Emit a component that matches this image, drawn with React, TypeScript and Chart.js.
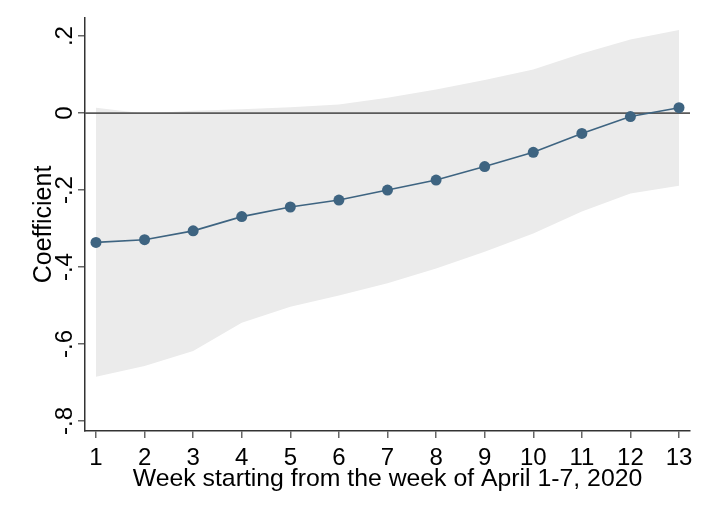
import React, { useEffect, useRef } from 'react';
import { Chart, registerables } from 'chart.js';
Chart.register(...registerables);

const weeks = [1, 2, 3, 4, 5, 6, 7, 8, 9, 10, 11, 12, 13];
const coef = [-0.336, -0.329, -0.306, -0.269, -0.244, -0.226, -0.2, -0.174, -0.139, -0.102, -0.053, -0.009, 0.014];
const upper = [0.014, -0.001, 0.006, 0.01, 0.015, 0.022, 0.04, 0.061, 0.086, 0.113, 0.155, 0.191, 0.216];
const lower = [-0.685, -0.657, -0.618, -0.545, -0.503, -0.474, -0.442, -0.404, -0.36, -0.313, -0.256, -0.209, -0.189];
const yTicks = [-0.8, -0.6, -0.4, -0.2, 0, 0.2];
const yTickLabels = ['-.8', '-.6', '-.4', '-.2', '0', '.2'];
const xTitle = 'Week starting from the week of April 1-7, 2020';
const yTitle = 'Coefficient';

const FONT = "'Liberation Sans', Arial, Helvetica, sans-serif";
const MARK = '#3e6481';

export default function App() {
  const ref = useRef<HTMLCanvasElement>(null);
  useEffect(() => {
    const canvas = ref.current;
    if (!canvas) return;
    const zeroLine = {
      id: 'zeroLine',
      beforeDatasetDraw(chart: any, args: any) {
        if (args.index !== 0) return;
        const { ctx, chartArea, scales } = chart;
        const y = scales.y.getPixelForValue(0);
        ctx.save();
        ctx.strokeStyle = '#5a5a5a';
        ctx.lineWidth = 1.8;
        ctx.beginPath();
        ctx.moveTo(chartArea.left, y);
        ctx.lineTo(chartArea.right, y);
        ctx.stroke();
        ctx.restore();
      },
    };
    const yLabels = {
      id: 'yLabels',
      afterDraw(chart: any) {
        const { ctx, scales } = chart;
        ctx.save();
        ctx.font = `24px ${FONT}`;
        ctx.fillStyle = '#000';
        ctx.textAlign = 'center';
        ctx.textBaseline = 'alphabetic';
        yTicks.forEach((v, i) => {
          const y = scales.y.getPixelForValue(v);
          ctx.save();
          ctx.translate(72, y);
          ctx.rotate(-Math.PI / 2);
          ctx.fillText(yTickLabels[i], 0, 0);
          ctx.restore();
        });
        ctx.restore();
      },
    };
    const chart = new Chart(canvas, {
      type: 'line',
      data: {
        datasets: [
          {
            label: 'coef',
            data: weeks.map((w, i) => ({ x: w, y: coef[i] })),
            borderColor: MARK,
            borderWidth: 1.6,
            pointRadius: 5.5,
            pointBackgroundColor: MARK,
            pointBorderWidth: 0,
            fill: false,
            tension: 0,
          },
          {
            label: 'upper',
            data: weeks.map((w, i) => ({ x: w, y: upper[i] })),
            borderWidth: 0,
            borderColor: 'rgba(0,0,0,0)',
            pointRadius: 0,
            backgroundColor: '#ebebeb',
            fill: '+1',
            tension: 0,
          },
          {
            label: 'lower',
            data: weeks.map((w, i) => ({ x: w, y: lower[i] })),
            borderWidth: 0,
            borderColor: 'rgba(0,0,0,0)',
            pointRadius: 0,
            fill: false,
            tension: 0,
          },
        ],
      },
      options: {
        animation: false,
        responsive: true,
        maintainAspectRatio: false,
        layout: { padding: { top: 18, right: 19, left: 0, bottom: 0 } },
        plugins: { legend: { display: false }, tooltip: { enabled: false } },
        scales: {
          x: {
            type: 'linear',
            min: 0.774,
            max: 13.226,
            afterBuildTicks: (s: any) => {
              s.ticks = weeks.map((v) => ({ value: v }));
            },
            afterFit: (s: any) => {
              s.height = 85;
            },
            ticks: {
              autoSkip: false,
              maxRotation: 0,
              minRotation: 0,
              padding: 6,
              color: '#000',
              font: { size: 24, family: FONT },
              callback: (v: any) => String(v),
            },
            grid: { display: true, drawOnChartArea: false, drawTicks: true, tickLength: 7, color: '#666', lineWidth: 1.5 },
            border: { display: true, color: '#333', width: 1.5 },
            title: {
              display: true,
              text: xTitle,
              color: '#000',
              font: { size: 24.8, family: FONT },
              padding: { top: 0, bottom: 22 },
            },
          },
          y: {
            type: 'linear',
            min: -0.826,
            max: 0.247,
            afterBuildTicks: (s: any) => {
              s.ticks = yTicks.map((v) => ({ value: v }));
            },
            afterFit: (s: any) => {
              s.width = 85;
            },
            ticks: { display: false },
            grid: { display: true, drawOnChartArea: false, drawTicks: true, tickLength: 7, color: '#666', lineWidth: 1.5 },
            border: { display: true, color: '#333', width: 1.5 },
            title: {
              display: true,
              text: yTitle,
              color: '#000',
              font: { size: 25, family: FONT },
              padding: { top: 29, bottom: 0 },
            },
          },
        },
      },
      plugins: [zeroLine, yLabels],
    } as any);
    return () => chart.destroy();
  }, []);
  return (
    <div style={{ position: 'absolute', left: 0, top: 0, width: 709, height: 516, background: '#fff' }}>
      <canvas ref={ref} />
    </div>
  );
}
